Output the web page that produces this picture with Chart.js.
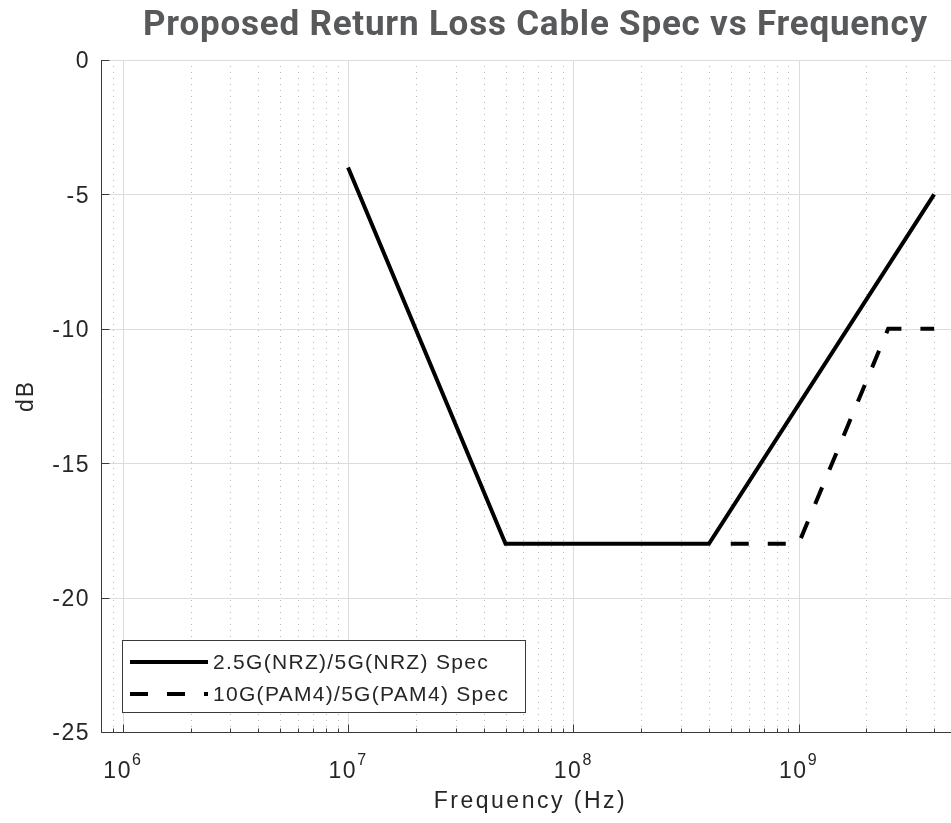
<!DOCTYPE html>
<html>
<head>
<meta charset="utf-8">
<script src="https://cdn.jsdelivr.net/npm/chart.js@4.4.1/dist/chart.umd.min.js"></script>
<style>
  html, body { margin: 0; padding: 0; background: #fff; overflow: hidden; width: 951px; height: 823px; }
  #wrap { width: 960px; height: 823px; }
</style>
</head>
<body>
<div id="wrap"><canvas id="rlChart" width="960" height="823"></canvas></div>
<script>
// --- data ---
const nrzFreq = [1e7, 5e7, 4e8, 4e9];
const nrzDb = [-4, -18, -18, -5];
const pamFreq = [5e8, 1e9, 2.5e9, 4e9];
const pamDb = [-18, -18, -10, -10];
const seriesLabels = ['2.5G(NRZ)/5G(NRZ) Spec', '10G(PAM4)/5G(PAM4) Spec'];
const yTicks = [0, -5, -10, -15, -20, -25];
const xDecades = [1e6, 1e7, 1e8, 1e9];
const xRange = [8e5, 5e9];
const yRange = [-25, 0];

const chartTitle = 'Proposed Return Loss Cable Spec vs Frequency';
const xTitle = 'Frequency (Hz)';
const yTitle = 'dB';

// --- styles ---
const FONT = '"Liberation Sans", Arial, Helvetica, sans-serif';
const TEXT = '#262626';
const AXIS = '#3a3a3a';
const GRID_MAJOR = '#dcdcdc';
const GRID_MINOR = '#b8b8b8';

const toPoints = (xs, ys) => xs.map((x, i) => ({ x: x, y: ys[i] }));

// minor log positions 2..9 x decade, inside the axis range
function minorValues(scale) {
  const out = [];
  const lo = Math.floor(Math.log10(scale.min));
  const hi = Math.floor(Math.log10(scale.max));
  for (let e = lo; e <= hi; e++) {
    for (let m = 2; m <= 9; m++) {
      const v = m * Math.pow(10, e);
      if (v >= scale.min && v <= scale.max) out.push(v);
    }
  }
  return out;
}

const gridPlugin = {
  id: 'matlabGrid',
  beforeDatasetsDraw(chart) {
    const { ctx, chartArea: a, scales: { x, y } } = chart;
    ctx.save();
    ctx.lineWidth = 1;

    // dotted minor verticals
    ctx.strokeStyle = GRID_MINOR;
    ctx.setLineDash([1, 5]);
    minorValues(x).forEach(v => {
      const px = Math.round(x.getPixelForValue(v)) + 0.5;
      ctx.beginPath(); ctx.moveTo(px, a.top); ctx.lineTo(px, a.bottom); ctx.stroke();
    });

    // solid major grid
    ctx.setLineDash([]);
    ctx.strokeStyle = GRID_MAJOR;
    xDecades.forEach(v => {
      const px = Math.round(x.getPixelForValue(v)) + 0.5;
      ctx.beginPath(); ctx.moveTo(px, a.top); ctx.lineTo(px, a.bottom); ctx.stroke();
    });
    yTicks.forEach(v => {
      const py = Math.round(y.getPixelForValue(v)) + 0.5;
      ctx.beginPath(); ctx.moveTo(a.left, py); ctx.lineTo(a.right, py); ctx.stroke();
    });
    ctx.restore();
  },
  afterDraw(chart) {
    const { ctx, chartArea: a, scales: { x, y } } = chart;
    ctx.save();

    // axis lines (left + bottom only)
    ctx.strokeStyle = AXIS;
    ctx.lineWidth = 1;
    const ax = Math.round(a.left) + 0.5;
    const ay = Math.round(a.bottom) + 0.5;
    ctx.beginPath();
    ctx.moveTo(ax, a.top); ctx.lineTo(ax, ay); ctx.lineTo(a.right, ay);
    ctx.stroke();

    // inward ticks
    ctx.beginPath();
    yTicks.forEach(v => {
      const py = Math.round(y.getPixelForValue(v)) + 0.5;
      ctx.moveTo(ax, py); ctx.lineTo(ax + 8, py);
    });
    xDecades.forEach(v => {
      const px = Math.round(x.getPixelForValue(v)) + 0.5;
      ctx.moveTo(px, ay); ctx.lineTo(px, ay - 8);
    });
    minorValues(x).forEach(v => {
      const px = Math.round(x.getPixelForValue(v)) + 0.5;
      ctx.moveTo(px, ay); ctx.lineTo(px, ay - 4);
    });
    ctx.stroke();

    // y tick labels
    ctx.fillStyle = TEXT;
    ctx.font = '23px ' + FONT;
    ctx.letterSpacing = '1.5px';
    ctx.textAlign = 'right';
    ctx.textBaseline = 'middle';
    yTicks.forEach(v => {
      ctx.fillText(String(v), a.left - 11, y.getPixelForValue(v) + 2);
    });

    // x tick labels 10^n
    ctx.textAlign = 'left';
    ctx.textBaseline = 'alphabetic';
    xDecades.forEach(v => {
      const exp = String(Math.round(Math.log10(v)));
      ctx.font = '23px ' + FONT;
      const wb = ctx.measureText('10').width;
      ctx.font = '16px ' + FONT;
      const we = ctx.measureText(exp).width;
      const cx = x.getPixelForValue(v);
      const x0 = cx - (wb + we) / 2;
      ctx.font = '23px ' + FONT;
      ctx.fillText('10', x0, a.bottom + 46);
      ctx.font = '16px ' + FONT;
      ctx.fillText(exp, x0 + wb, a.bottom + 33);
    });

    // axis titles
    ctx.font = '23px ' + FONT;
    ctx.letterSpacing = '2.5px';
    ctx.textAlign = 'center';
    ctx.fillText(xTitle, (a.left + a.right) / 2 + 2, a.bottom + 76);
    ctx.save();
    ctx.translate(27, (a.top + a.bottom) / 2);
    ctx.rotate(-Math.PI / 2);
    ctx.textBaseline = 'middle';
    ctx.letterSpacing = '2px';
    ctx.fillText(yTitle, 0, 0);
    ctx.restore();

    // chart title, fitted to its span
    ctx.font = 'bold 35px Roboto, "Open Sans", sans-serif';
    ctx.fillStyle = '#58595b';
    ctx.textAlign = 'left';
    ctx.letterSpacing = '0px';
    const span = 784;
    const w0 = ctx.measureText(chartTitle).width;
    ctx.letterSpacing = ((span - w0) / (chartTitle.length - 1)).toFixed(2) + 'px';
    ctx.fillText(chartTitle, 143, 35);

    // legend box
    ctx.letterSpacing = '0px';
    const lx = a.left + 21, ly = a.bottom - 92, lw = 403, lh = 72;
    ctx.fillStyle = '#fff';
    ctx.fillRect(lx, ly, lw, lh);
    ctx.strokeStyle = AXIS;
    ctx.lineWidth = 1;
    ctx.strokeRect(Math.round(lx) + 0.5, Math.round(ly) + 0.5, lw, lh);
    chart.data.datasets.forEach((ds, i) => {
      const ry = ly + 22 + i * 32;
      ctx.strokeStyle = ds.borderColor;
      ctx.lineWidth = ds.borderWidth;
      ctx.setLineDash(ds.borderDash || []);
      ctx.beginPath();
      ctx.moveTo(lx + 8, ry); ctx.lineTo(lx + 86, ry);
      ctx.stroke();
      ctx.setLineDash([]);
      ctx.fillStyle = TEXT;
      ctx.font = '21px ' + FONT;
      ctx.letterSpacing = '1.3px';
      ctx.textBaseline = 'middle';
      ctx.fillText(ds.label, lx + 91, ry + 1);
    });
    ctx.restore();
  }
};

new Chart(document.getElementById('rlChart').getContext('2d'), {
  type: 'line',
  data: {
    datasets: [
      {
        label: seriesLabels[0],
        data: toPoints(nrzFreq, nrzDb),
        borderColor: '#000',
        borderWidth: 4,
        borderJoinStyle: 'miter',
        pointRadius: 0,
        fill: false,
        tension: 0
      },
      {
        label: seriesLabels[1],
        data: toPoints(pamFreq, pamDb),
        borderColor: '#000',
        borderWidth: 4,
        borderDash: [18, 19],
        borderJoinStyle: 'miter',
        pointRadius: 0,
        fill: false,
        tension: 0
      }
    ]
  },
  options: {
    responsive: false,
    animation: false,
    devicePixelRatio: 1,
    layout: { padding: { top: 60, right: 4, left: 0, bottom: 0 } },
    scales: {
      x: {
        type: 'logarithmic',
        min: xRange[0],
        max: xRange[1],
        grid: { display: false },
        border: { display: false },
        ticks: { display: false },
        afterFit: s => { s.height = 91; }
      },
      y: {
        type: 'linear',
        min: yRange[0],
        max: yRange[1],
        grid: { display: false },
        border: { display: false },
        ticks: { display: false },
        afterFit: s => { s.width = 101; }
      }
    },
    plugins: {
      legend: { display: false },
      title: { display: false },
      tooltip: { enabled: false }
    }
  },
  plugins: [gridPlugin]
});
</script>
</body>
</html>
